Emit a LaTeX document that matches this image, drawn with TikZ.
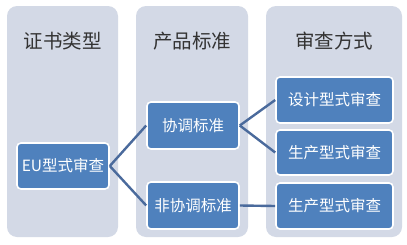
\documentclass[tikz,border=0pt]{standalone}
\usepackage{fontspec}
\setmainfont{Noto Sans CJK SC}
\definecolor{colbg}{HTML}{D3D9E6}
\definecolor{boxbg}{HTML}{4F81BD}
\definecolor{linec}{HTML}{4A6A9C}
\tikzset{
  colpanel/.style={fill=colbg, draw=none, rounded corners=10pt},
  header/.style={font=\fontsize{19.5}{21}\selectfont, text=black!80},
  itembox/.style={fill=boxbg, draw=white, line width=1.6pt, rounded corners=4pt, text=white, font=\fontsize{15.5}{17}\selectfont, inner sep=0pt},
  conn/.style={draw=linec, line width=2.4pt}
}
\begin{document}
\begin{tikzpicture}[x=1pt,y=-1pt]
\useasboundingbox (0,0) rectangle (407,244);
\fill[white] (0,0) rectangle (407,244);
% column panels
\path[colpanel] (7,6) rectangle (118,237);
\path[colpanel] (136,6) rectangle (248,237);
\path[colpanel] (266,6) rectangle (402,237);
% headers
\node[header] (h1) at (62.5,41) {证书类型};
\node[header] (h2) at (192,41) {产品标准};
\node[header] (h3) at (334,41) {审查方式};
% boxes
\node[itembox, minimum width=92pt, minimum height=46pt] (eu) at (63,166) {EU型式审查};
\node[itembox, minimum width=92pt, minimum height=47pt] (hs) at (193,125.5) {协调标准};
\node[itembox, minimum width=92pt, minimum height=47pt] (nhs) at (193,205.5) {非协调标准};
\node[itembox, minimum width=117pt, minimum height=46pt] (d1) at (334.5,100) {设计型式审查};
\node[itembox, minimum width=117pt, minimum height=45pt] (p1) at (334.5,152.5) {生产型式审查};
\node[itembox, minimum width=117pt, minimum height=46pt] (p2) at (334.5,206) {生产型式审查};
% connectors
\draw[conn] (eu.east) -- (hs.west);
\draw[conn] (eu.east) -- (nhs.west);
\draw[conn] (hs.east) -- (d1.west);
\draw[conn] (hs.east) -- (p1.west);
\draw[conn] (nhs.east) -- (p2.west);
\end{tikzpicture}
\end{document}
